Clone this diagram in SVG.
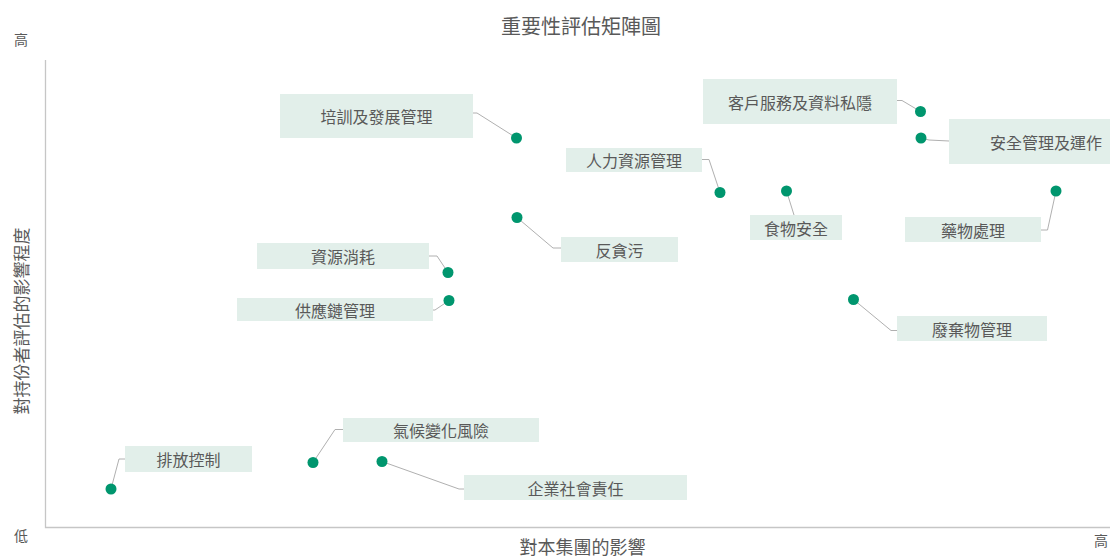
<svg xmlns="http://www.w3.org/2000/svg" width="1110" height="557" viewBox="0 0 1110 557">
<style>
text{font-family:"Noto Sans CJK TC","Noto Sans CJK SC",sans-serif;fill:#595959}
.lbl{font-size:16px;text-anchor:middle;dominant-baseline:central}
.box{fill:#e2efea}
.dot{fill:#00966e}
.ln{fill:none;stroke:#b0b0b0;stroke-width:1}
.ax{fill:none;stroke:#c6c6c6;stroke-width:1.3}
.tick{font-size:14px;text-anchor:middle}
</style>
<rect width="1110" height="557" fill="#ffffff"/>
<text x="581" y="34" font-size="20" text-anchor="middle">重要性評估矩陣圖</text>
<g id="axes">
<path class="ax" d="M45.5,60 V527.5 H1110"/>
<text class="tick" x="21" y="44.5">高</text>
<text class="tick" x="21" y="541">低</text>
<text class="tick" x="1101" y="546">高</text>
<text x="582.5" y="554" font-size="18" text-anchor="middle">對本集團的影響</text>
<text transform="translate(20,321) rotate(-90)" font-size="17" text-anchor="middle" dominant-baseline="central">對持份者評估的影響程度</text>
</g>
<g id="connectors">
<polyline class="ln" points="472.5,113 477,113 516.5,138"/>
<polyline class="ln" points="517,217.5 553,248 561,248"/>
<polyline class="ln" points="429,256 437,256 448,272.5"/>
<polyline class="ln" points="433,310 435,310 449,300.5"/>
<polyline class="ln" points="343,429.5 335,429.5 313,462.5"/>
<polyline class="ln" points="125,459 119,459 111,489"/>
<polyline class="ln" points="382,461.5 459,489 464,489"/>
<polyline class="ln" points="702,159.5 709,159.5 720,192.5"/>
<polyline class="ln" points="786.5,191 794,215"/>
<polyline class="ln" points="897,100.5 902,100.5 920.5,111.5"/>
<polyline class="ln" points="921,138 929,140 949,141"/>
<polyline class="ln" points="1041,230 1047.5,230 1056,191"/>
<polyline class="ln" points="853.5,299.5 891,330.5 897,330.5"/>
</g>
<g id="n-training"><rect class="box" x="280" y="94" width="193" height="44"/><text class="lbl" x="376.5" y="116">培訓及發展管理</text><circle class="dot" cx="516.5" cy="138" r="5.5"/></g>
<g id="n-anticorruption"><rect class="box" x="561" y="237" width="117" height="25"/><text class="lbl" x="619.5" y="249.5">反貪污</text><circle class="dot" cx="517" cy="217.5" r="5.5"/></g>
<g id="n-resource"><rect class="box" x="257" y="243" width="172" height="26"/><text class="lbl" x="343" y="256">資源消耗</text><circle class="dot" cx="448" cy="272.5" r="5.5"/></g>
<g id="n-supply"><rect class="box" x="237" y="298" width="196" height="23"/><text class="lbl" x="335" y="310">供應鏈管理</text><circle class="dot" cx="449" cy="300.5" r="5.5"/></g>
<g id="n-climate"><rect class="box" x="343" y="418" width="196" height="24"/><text class="lbl" x="441" y="430">氣候變化風險</text><circle class="dot" cx="313" cy="462.5" r="5.5"/></g>
<g id="n-emission"><rect class="box" x="125" y="446" width="127" height="26"/><text class="lbl" x="188.5" y="459">排放控制</text><circle class="dot" cx="111" cy="489" r="5.5"/></g>
<g id="n-csr"><rect class="box" x="464" y="475" width="223" height="25"/><text class="lbl" x="575.5" y="487.5">企業社會責任</text><circle class="dot" cx="382" cy="461.5" r="5.5"/></g>
<g id="n-hr"><rect class="box" x="566" y="148" width="136" height="24"/><text class="lbl" x="634" y="160">人力資源管理</text><circle class="dot" cx="720" cy="192.5" r="5.5"/></g>
<g id="n-food"><rect class="box" x="750" y="215" width="92" height="25"/><text class="lbl" x="796" y="227.5">食物安全</text><circle class="dot" cx="786.5" cy="191" r="5.5"/></g>
<g id="n-customer"><rect class="box" x="703" y="79" width="194" height="45"/><text class="lbl" x="800" y="101.5">客戶服務及資料私隱</text><circle class="dot" cx="920.5" cy="111.5" r="5.5"/></g>
<g id="n-safety"><rect class="box" x="949" y="119" width="194" height="45"/><text class="lbl" x="1046" y="141.5">安全管理及運作</text><circle class="dot" cx="921" cy="138" r="5.5"/></g>
<g id="n-drug"><rect class="box" x="905" y="217" width="136" height="25"/><text class="lbl" x="973" y="229.5">藥物處理</text><circle class="dot" cx="1056" cy="191" r="5.5"/></g>
<g id="n-waste"><rect class="box" x="897" y="316" width="150" height="25"/><text class="lbl" x="972" y="328.5">廢棄物管理</text><circle class="dot" cx="853.5" cy="299.5" r="5.5"/></g>
</svg>
